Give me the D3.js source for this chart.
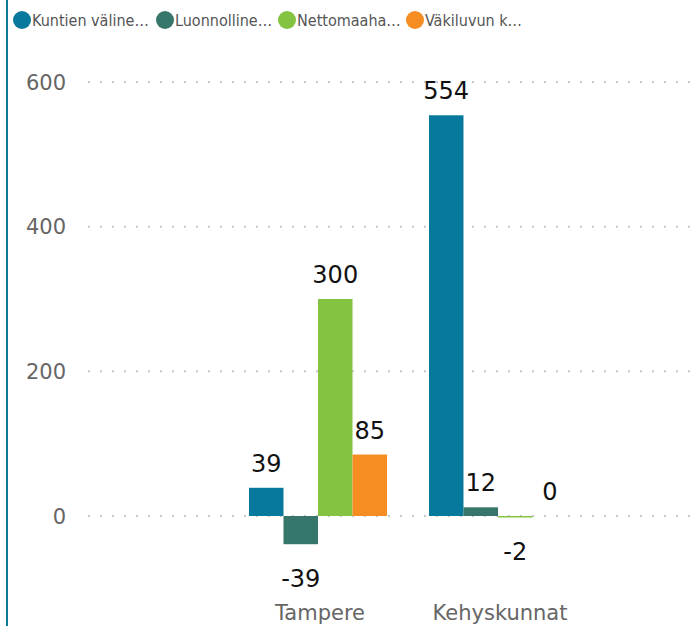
<!DOCTYPE html>
<html>
<head>
<meta charset="utf-8">
<script src="https://cdn.jsdelivr.net/npm/d3@7"></script>
<style>
  body { margin: 0; background: #fff; }
  svg { display: block; }
</style>
</head>
<body>
<div id="chart"></div>
<script>
document.addEventListener('DOMContentLoaded', () => {

    // data
    const categories = ["Tampere", "Kehyskunnat"];
    const seriesNames = ["Kuntien väline…", "Luonnolline…", "Nettomaaha…", "Väkiluvun k…"];
    const seriesColors = ["#07799C", "#37766A", "#84C341", "#F68D22"];
    const values = [
        [39, -39, 300, 85],   // Tampere
        [554, 12, -2, 0]      // Kehyskunnat
    ];
    const yTicks = [0, 200, 400, 600];

    const width = 692, height = 626;
    const font = "'DejaVu Sans', sans-serif";

    const svg = d3.select("#chart").append("svg")
        .attr("width", width)
        .attr("height", height)
        .style("font-family", font);

    // left accent line
    svg.append("rect")
        .attr("x", 6).attr("y", 0)
        .attr("width", 2).attr("height", height)
        .attr("fill", "#0F7A9C");

    // legend
    const legendX = [22, 165, 287, 415];
    const legend = svg.append("g").selectAll("g")
        .data(seriesNames)
        .join("g")
        .attr("transform", (d, i) => `translate(${legendX[i]},20)`);
    legend.append("circle")
        .attr("r", 9)
        .attr("fill", (d, i) => seriesColors[i]);
    legend.append("text")
        .attr("x", 10)
        .attr("dy", "0.36em")
        .style("font-family", "'DejaVu Sans Condensed', 'DejaVu Sans', sans-serif")
        .style("font-size", "16px")
        .attr("fill", "#555")
        .text(d => d);

    // scales
    const y = d3.scaleLinear().domain([0, 600]).range([516, 82]);
    const x0 = d3.scaleBand().domain(categories).range([228, 588]).paddingInner(0.233).paddingOuter(0.1165);
    const x1 = d3.scaleBand().domain(d3.range(seriesNames.length)).range([0, x0.bandwidth()]);

    // dotted gridlines
    const grid = svg.append("g");
    yTicks.forEach(t => {
        grid.append("line")
            .attr("x1", 88).attr("x2", width)
            .attr("y1", y(t)).attr("y2", y(t))
            .attr("stroke", "#c8c8c8")
            .attr("stroke-width", 2)
            .attr("stroke-dasharray", "2,10");
    });

    // y axis labels
    svg.append("g").selectAll("text")
        .data(yTicks)
        .join("text")
        .attr("x", 66)
        .attr("y", d => y(d))
        .attr("dy", "0.36em")
        .attr("text-anchor", "end")
        .style("font-size", "21px")
        .attr("fill", "#666")
        .text(d => d);

    // bars
    const groups = svg.append("g").selectAll("g")
        .data(values)
        .join("g")
        .attr("transform", (d, i) => `translate(${x0(categories[i])},0)`);

    groups.selectAll("rect")
        .data(d => d)
        .join("rect")
        .attr("x", (d, i) => x1(i))
        .attr("width", x1.bandwidth())
        .attr("y", d => y(Math.max(0, d)))
        .attr("height", d => Math.max(Math.abs(y(d) - y(0)), d === 0 ? 0 : 1.5))
        .attr("fill", (d, i) => seriesColors[i]);

    // value labels
    groups.selectAll("text")
        .data(d => d)
        .join("text")
        .attr("x", (d, i) => x1(i) + x1.bandwidth() / 2)
        .attr("y", d => d < 0 ? y(d) + 43 : y(d) - 16)
        .attr("text-anchor", "middle")
        .style("font-size", "24px")
        .attr("fill", "#111")
        .text(d => d);

    // category labels
    svg.append("g").selectAll("text")
        .data(categories)
        .join("text")
        .attr("x", d => x0(d) + x0.bandwidth() / 2 + 2)
        .attr("y", 620)
        .attr("text-anchor", "middle")
        .style("font-size", "21px")
        .attr("fill", "#666")
        .text(d => d);
});
</script>
</body>
</html>
